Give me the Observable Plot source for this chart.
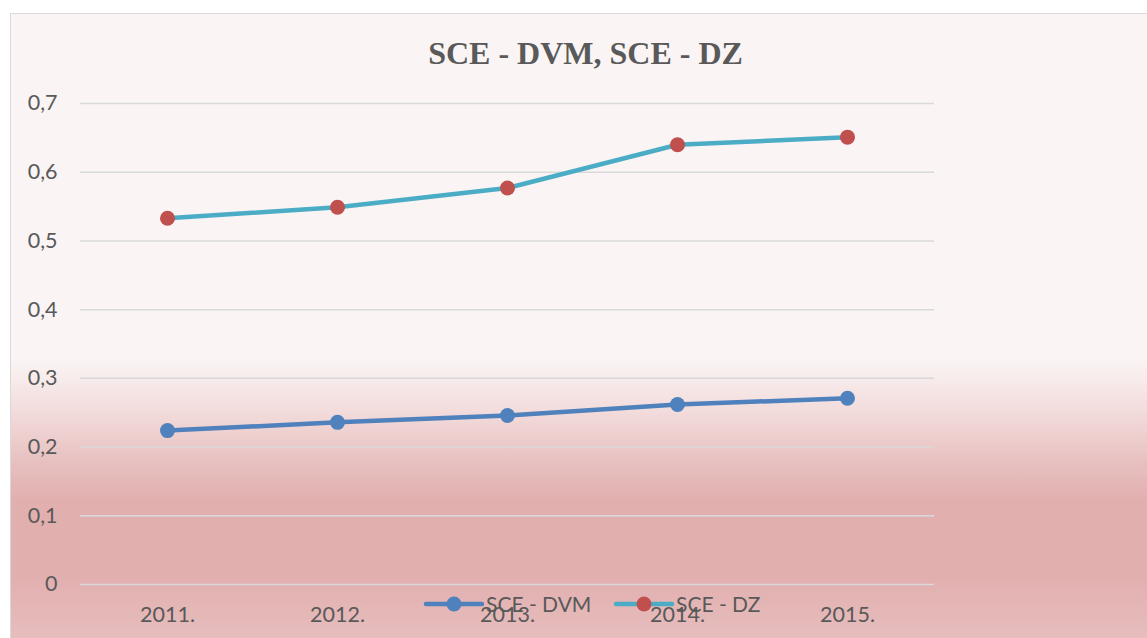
<!DOCTYPE html>
<html>
<head>
<meta charset="utf-8">
<script src="https://cdn.jsdelivr.net/npm/d3@7"></script>
<script src="https://cdn.jsdelivr.net/npm/@observablehq/plot@0.6"></script>
<style>
  html, body { margin: 0; padding: 0; background: #ffffff; }
  #wrap { position: relative; width: 1147px; height: 638px; overflow: hidden; }
  #frame {
    position: absolute; left: 10px; top: 13px; width: 1160px; height: 640px;
    border-left: 1.5px solid #d9d9d9; border-top: 1.5px solid #d9d9d9;
    background: linear-gradient(to bottom,
      #faf4f4 0%, #faf4f4 54%, #f3dcdc 62%, #e8c0c0 70%, #e2afaf 76%, #e2afaf 88%, #e8c1c1 100%);
  }
  #title {
    position: absolute; left: 0; width: 1171px; top: 33px; text-align: center;
    font-family: "Liberation Serif", "Times New Roman", serif; font-weight: bold;
    font-size: 32px; color: #595959; line-height: 40px;
  }
  #chart { position: absolute; left: 0; top: 0; }
  #legend { position: absolute; left: 0; top: 0; pointer-events: none; }
</style>
</head>
<body>
<div id="wrap">
  <div id="frame"></div>
  <div id="chart"></div>
  <div id="title">SCE - DVM, SCE - DZ</div>
  <svg id="legend" width="1147" height="638"></svg>
</div>
<script>
const years = ["2011.", "2012.", "2013.", "2014.", "2015."];
const dvm = [0.224, 0.236, 0.246, 0.262, 0.271];
const dz = [0.533, 0.549, 0.577, 0.640, 0.651];
const yTicks = [0, 0.1, 0.2, 0.3, 0.4, 0.5, 0.6, 0.7];
const seriesNames = ["SCE - DVM", "SCE - DZ"];

const dvmData = years.map((y, i) => ({year: y, value: dvm[i]}));
const dzData = years.map((y, i) => ({year: y, value: dz[i]}));

const fmt = d => d === 0 ? "0" : d.toFixed(1).replace(".", ",");

const chart = Plot.plot({
  width: 1147,
  height: 638,
  marginTop: 103,
  marginBottom: 54,
  marginLeft: 80,
  marginRight: 213,
  style: {background: "transparent", fontFamily: "Lato, 'Open Sans', sans-serif", fontSize: "21.5px", color: "#595959"},
  x: {type: "point", domain: years, padding: 0.5, label: null, tickSize: 0, tickPadding: 22},
  y: {domain: [0, 0.7], ticks: yTicks, tickFormat: fmt, label: null, tickSize: 0, tickPadding: 23},
  marks: [
    Plot.gridY(yTicks, {stroke: "#d9d9d9", strokeOpacity: 1, strokeWidth: 1.5}),
    Plot.axisX({tickSize: 0, tickPadding: 22, fill: "#595959"}),
    Plot.axisY(yTicks, {tickSize: 0, tickPadding: 23, tickFormat: fmt, fill: "#595959"}),
    Plot.line(dvmData, {x: "year", y: "value", stroke: "#4f81bd", strokeWidth: 4.5}),
    Plot.dot(dvmData, {x: "year", y: "value", r: 7.5, fill: "#4f81bd", stroke: "none"}),
    Plot.line(dzData, {x: "year", y: "value", stroke: "#4bacc6", strokeWidth: 4.5}),
    Plot.dot(dzData, {x: "year", y: "value", r: 7.5, fill: "#c0504d", stroke: "none"})
  ]
});
document.getElementById("chart").appendChild(chart);

// Legend (overlapping the category labels, as in the original)
const lg = d3.select("#legend");
const items = [
  {name: seriesNames[0], line: "#4f81bd", dot: "#4f81bd", x: 426},
  {name: seriesNames[1], line: "#4bacc6", dot: "#c0504d", x: 616}
];
const cy = 604;
items.forEach(it => {
  lg.append("line").attr("x1", it.x).attr("x2", it.x + 56).attr("y1", cy).attr("y2", cy)
    .attr("stroke", it.line).attr("stroke-width", 4.5).attr("stroke-linecap", "round");
  lg.append("circle").attr("cx", it.x + 28).attr("cy", cy).attr("r", 7.5).attr("fill", it.dot);
  lg.append("text").attr("x", it.x + 60).attr("y", cy).attr("dy", "0.36em")
    .attr("font-family", "Lato, 'Open Sans', sans-serif").attr("font-size", 21)
    .attr("fill", "#595959").text(it.name);
});
</script>
</body>
</html>
